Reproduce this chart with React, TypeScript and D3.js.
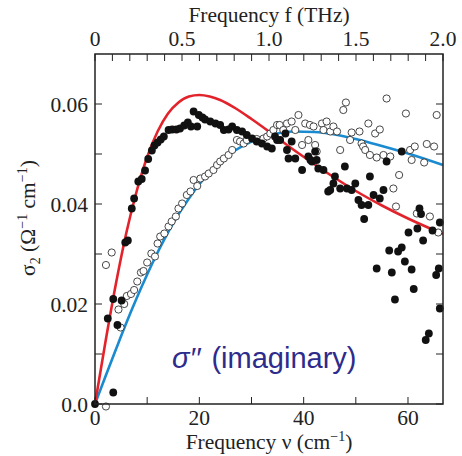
import React from "react";
import * as d3 from "d3";

// Model curves (ν in cm^-1, σ2 in Ω^-1 cm^-1)
const redNu = [0, 2, 4, 6, 8, 10, 12, 14, 16, 18, 20, 22, 24, 27, 30, 34, 38, 42, 46, 50, 55, 60, 66.7];
const redSigma = [0, 0.0124, 0.0240, 0.0342, 0.0426, 0.0494, 0.0545, 0.0581, 0.0603, 0.0615, 0.0618, 0.0615, 0.0608, 0.0591, 0.0570, 0.0540, 0.0509, 0.0480, 0.0452, 0.0426, 0.0397, 0.0371, 0.0340];

const blueNu = [0, 2, 4, 6, 8, 10, 12, 15, 18, 21, 24, 27, 30, 34, 38, 42, 46, 50, 55, 60, 66.7];
const blueSigma = [0, 0.0055, 0.0109, 0.0162, 0.0212, 0.0259, 0.0303, 0.0362, 0.0411, 0.0452, 0.0484, 0.0508, 0.0525, 0.0539, 0.0545, 0.0544, 0.0539, 0.0530, 0.0516, 0.0501, 0.0478];

// Measured points
const filledPoints: [number, number][] = [
  [0, 0], [3.5, 0.0023], [2.45, 0.0171], [3.5, 0.021], [5.1, 0.0207], [4.3, 0.0158], [5.8, 0.0323], [6.3, 0.0327],
  [7.05, 0.0391], [7.5, 0.0411], [8.3, 0.0445], [8.96, 0.045], [9.6, 0.0467], [10.2, 0.049], [10.9, 0.0507],
  [11.4, 0.0517], [12, 0.0523], [12.6, 0.0529], [13.2, 0.0535], [14.1, 0.0548], [14.8, 0.0549], [15.6, 0.0549],
  [16.3, 0.0551], [17.1, 0.0557], [17.8, 0.0563], [18.4, 0.0555], [18.9, 0.0585], [19.6, 0.0555], [19.9, 0.0578],
  [20.6, 0.0573], [21.1, 0.0569], [22.1, 0.0565], [23.1, 0.0561], [24, 0.0558], [24.7, 0.0548], [25.6, 0.0549],
  [26.3, 0.0555], [27.2, 0.0548], [28.2, 0.0545], [29.1, 0.0538], [30.1, 0.0531], [31, 0.0525], [32, 0.0521],
  [33, 0.0515], [33.9, 0.0511], [34.5, 0.0535], [34.9, 0.0528], [35.5, 0.0528], [36.5, 0.0541], [37.7, 0.0525],
  [36.8, 0.0508], [37.1, 0.0491], [38.4, 0.0491], [39.7, 0.0468], [40.9, 0.0495], [41.3, 0.0488], [41.6, 0.0485],
  [42.2, 0.0505], [42.5, 0.0488], [42.8, 0.0471], [43.8, 0.0468], [44.7, 0.0425], [45.1, 0.0428], [45.7, 0.0441],
  [46, 0.0455], [47, 0.0431], [47.9, 0.0475], [48.3, 0.0431], [49.2, 0.0428], [49.9, 0.0441], [50.5, 0.0408],
  [51.1, 0.0398], [51.6, 0.037], [52.4, 0.0398], [52.7, 0.0455], [53.4, 0.0418], [54.6, 0.0411], [55.3, 0.0428],
  [55.9, 0.0485], [58.8, 0.0505], [56.4, 0.0307], [54, 0.0271], [56.9, 0.0263], [57.5, 0.0209], [58.1, 0.0305],
  [58.8, 0.0313], [59.4, 0.0285], [60.1, 0.0343], [60.7, 0.0269], [61.1, 0.023], [61.8, 0.0351], [62.2, 0.0391],
  [62.5, 0.038], [62.9, 0.0327], [64.7, 0.0347], [66.1, 0.0363], [65.9, 0.0271], [65.4, 0.0258], [66.1, 0.0191],
  [64, 0.0141], [63.4, 0.0128],
];

const openPoints: [number, number][] = [
  [2.1, -0.0005], [2.1, 0.0278], [3.2, 0.0303], [4.9, 0.0153], [4.5, 0.0189], [5.6, 0.02], [6.1, 0.0216],
  [6.9, 0.022], [7.5, 0.0228], [8.1, 0.0245], [8.8, 0.0263], [9.3, 0.0266], [10, 0.0283], [10.8, 0.0301],
  [11.5, 0.0295], [12, 0.0321], [12.5, 0.0335], [13.3, 0.0341], [14.1, 0.0355], [14.7, 0.0365], [15.5, 0.0375],
  [16, 0.0391], [16.7, 0.0401], [17.6, 0.0418], [18.3, 0.0425], [18.9, 0.0448], [19.6, 0.0436], [20.2, 0.0451],
  [21.1, 0.0455], [21.8, 0.0461], [22.7, 0.0468], [23.4, 0.0478], [24, 0.0485], [24.7, 0.0491], [25.6, 0.0498],
  [26.3, 0.0508], [27.2, 0.0528], [27.8, 0.0525], [28.5, 0.0521], [29.1, 0.0528], [31, 0.053], [32.3, 0.0531],
  [33, 0.0535], [33.6, 0.0541], [34.2, 0.0548], [34.9, 0.0558], [35.4, 0.0558], [36.1, 0.0548], [36.8, 0.0561],
  [37.7, 0.0565], [38.4, 0.0548], [39, 0.0578], [39.7, 0.0518], [40.3, 0.0561], [40.9, 0.0528], [41.2, 0.0558],
  [41.9, 0.0555], [42.2, 0.0518], [42.5, 0.0505], [43.5, 0.0561], [43.8, 0.0548], [44.4, 0.0565], [45.1, 0.0545],
  [45.7, 0.0555], [46.4, 0.0545], [47, 0.0508], [47.6, 0.0588], [48.1, 0.0603], [48.9, 0.0528], [49.2, 0.0543],
  [50.7, 0.0545], [51.1, 0.0521], [51.4, 0.0515], [51.8, 0.0508], [52.4, 0.0561], [52.7, 0.0498], [53.7, 0.0541],
  [54, 0.0493], [54.6, 0.0549], [55.3, 0.0498], [55.9, 0.0611], [56.6, 0.0495], [57.2, 0.0431], [57.7, 0.0395],
  [58.3, 0.0458], [59.6, 0.0581], [60.4, 0.0508], [60.7, 0.0488], [61.3, 0.0515], [61.7, 0.0381], [63.1, 0.0483],
  [63.6, 0.052], [64.2, 0.0375], [65, 0.0515], [65.5, 0.0578], [65.8, 0.0343],
];

const bottomTicks = [0, 20, 40, 60];
const bottomTickLabels = ["0", "20", "40", "60"];
const bottomMinor = [10, 30, 50];
const leftTicks = [0, 0.02, 0.04, 0.06];
const leftTickLabels = ["0.0", "0.02", "0.04", "0.06"];
const leftMinor = [0.01, 0.03, 0.05];
const topTicks = [0, 0.5, 1.0, 1.5, 2.0];
const topTickLabels = ["0", "0.5", "1.0", "1.5", "2.0"];
const topMinor = d3.range(0, 21).map((i) => i / 10);

const CM_PER_THZ = 33.356;

export default function App() {
  const L = 95, R = 443, T = 54, B = 404;
  const x = d3.scaleLinear().domain([0, 2 * CM_PER_THZ]).range([L, R]);
  const xTop = d3.scaleLinear().domain([0, 2]).range([L, R]);
  const y = d3.scaleLinear().domain([0, 0.07]).range([B, T]);

  const line = d3
    .line<[number, number]>()
    .x((d) => x(d[0]))
    .y((d) => y(d[1]))
    .curve(d3.curveMonotoneX);

  const redData = redNu.map((v, i) => [v, redSigma[i]] as [number, number]);
  const blueData = blueNu.map((v, i) => [v, blueSigma[i]] as [number, number]);

  const serif = "'Liberation Serif', 'Times New Roman', serif";
  const fs = 21.5;
  const tl = 7;

  return (
    <svg
      width={462}
      height={456}
      style={{ position: "absolute", left: 0, top: 0, background: "#fff" }}
      fontFamily={serif}
    >
      <rect x={0} y={0} width={462} height={456} fill="#fff" />
      {/* curves */}
      <path d={line(blueData) || ""} fill="none" stroke="#1a8bd0" strokeWidth={2.6} />
      <path d={line(redData) || ""} fill="none" stroke="#e3232b" strokeWidth={2.6} />

      {/* open circles */}
      {openPoints.map((d, i) => (
        <circle key={"o" + i} cx={x(d[0])} cy={y(d[1])} r={3.6} fill="#fff" stroke="#333" strokeWidth={0.9} />
      ))}
      {/* filled circles */}
      {filledPoints.map((d, i) => (
        <circle key={"f" + i} cx={x(d[0])} cy={y(d[1])} r={3.9} fill="#111" />
      ))}

      {/* frame */}
      <rect x={L} y={T} width={R - L} height={B - T} fill="none" stroke="#222" strokeWidth={1.5} />

      {/* bottom ticks */}
      {[...bottomTicks, ...bottomMinor].map((t) => (
        <line key={"bt" + t} x1={x(t)} x2={x(t)} y1={B} y2={B - tl} stroke="#222" strokeWidth={1} />
      ))}
      {bottomTicks.map((t, i) => (
        <text key={"bl" + t} x={x(t)} y={425} fontSize={fs} textAnchor="middle" fill="#222">
          {bottomTickLabels[i]}
        </text>
      ))}
      {/* top ticks */}
      {topMinor.map((t) => (
        <line key={"tt" + t} x1={xTop(t)} x2={xTop(t)} y1={T} y2={T + tl} stroke="#222" strokeWidth={1} />
      ))}
      {topTicks.map((t, i) => (
        <text key={"tl" + t} x={xTop(t)} y={46} fontSize={fs} textAnchor="middle" fill="#222">
          {topTickLabels[i]}
        </text>
      ))}
      {/* left / right ticks */}
      {[...leftTicks, ...leftMinor].map((t) => (
        <g key={"lt" + t}>
          <line x1={L} x2={L + tl} y1={y(t)} y2={y(t)} stroke="#222" strokeWidth={1} />
          <line x1={R} x2={R - tl} y1={y(t)} y2={y(t)} stroke="#222" strokeWidth={1} />
        </g>
      ))}
      {leftTicks.map((t, i) => (
        <text key={"ll" + t} x={88} y={y(t) + 7.5} fontSize={fs} textAnchor="end" fill="#222">
          {leftTickLabels[i]}
        </text>
      ))}

      {/* axis titles */}
      <text x={269} y={22} fontSize={fs} textAnchor="middle" fill="#222">
        Frequency f (THz)
      </text>
      <text x={269} y={449} fontSize={fs} textAnchor="middle" fill="#222">
        Frequency ν (cm
        <tspan dy={-8} fontSize={14}>−1</tspan>
        <tspan dy={8}>)</tspan>
      </text>
      <text transform="translate(35,218) rotate(-90)" fontSize={fs} textAnchor="middle" fill="#222">
        σ<tspan dy={5} fontSize={14}>2</tspan>
        <tspan dy={-5}> (Ω</tspan>
        <tspan dy={-8} fontSize={14}>−1</tspan>
        <tspan dy={8}> cm</tspan>
        <tspan dy={-8} fontSize={14}>−1</tspan>
        <tspan dy={8}>)</tspan>
      </text>

      {/* annotation */}
      <text x={172} y={368} fontSize={29} fill="#2d2b8c" fontFamily="'Liberation Sans', Arial, sans-serif">
        <tspan fontStyle="italic">σ′′</tspan>
        <tspan dx={3}> (imaginary)</tspan>
      </text>
    </svg>
  );
}
